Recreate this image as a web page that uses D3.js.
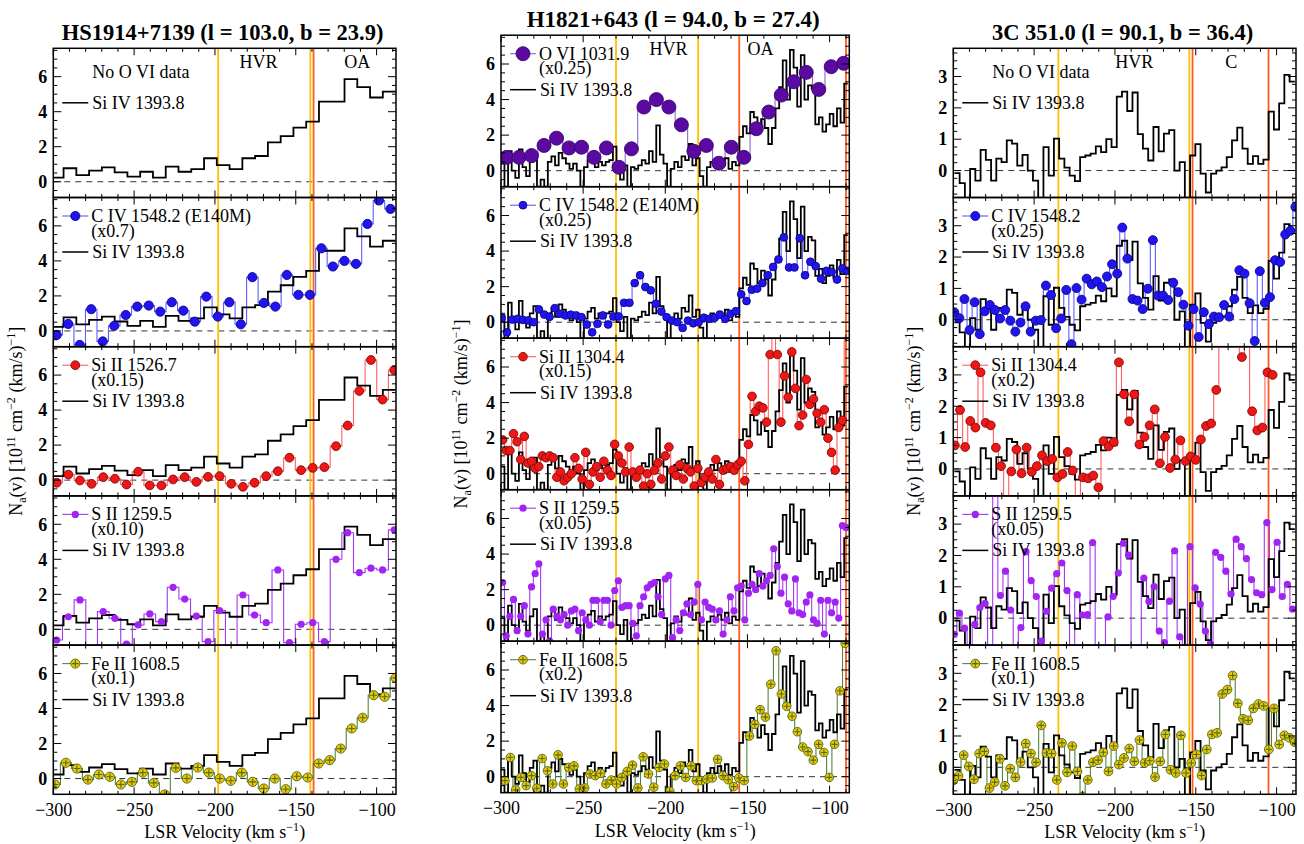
<!DOCTYPE html>
<html>
<head>
<meta charset="utf-8">
<script src="https://cdn.jsdelivr.net/npm/d3@7"></script>
<style>
  body { margin: 0; background: #fff; }
  svg text { font-family: "Liberation Serif", "Times New Roman", serif; fill: #000; }
</style>
</head>
<body>
<svg id="chart" width="1304" height="844"></svg>
<script>
// ---------------- data: apparent column density profiles ----------------
// Each profile is sampled on a uniform velocity grid [first centre, step] (km/s).

// HS1914+7139
const hsTitle = "HS1914+7139 (l = 103.0, b = 23.9)";
const hsSiIVGrid = [-297.6, 7.9];
const hsSiIV = [0.23,0.77,0.38,0.63,0.82,0.54,0.29,0.57,0.23,0.86,0.57,0.72,1.34,0.95,0.72,1.34,1.47,2.25,2.61,3.09,3.43,4.58,4.58,5.86,5.40,4.81,5.15];
const hsCIVGrid = [-297.9, 7.12];
const hsCIV = [-0.23,0.4,-0.8,1.24,-0.6,0.29,0.91,1.39,1.45,1.1,1.64,1.16,0.53,1.96,0.82,1.64,0.38,3.07,1.6,1.39,3.2,2.06,2.06,4.72,3.68,4.0,3.83,6.11,7.45,6.97];
const hsSiIIGrid = [-297.9, 7.2];
const hsSiII = [-0.15,0.32,-0.02,-0.21,0.17,0.08,-0.25,0.48,-0.3,-0.3,0.04,0.17,-0.1,0.19,0.23,-0.21,-0.38,-0.15,0.23,0.51,1.28,0.57,0.7,0.74,1.94,3.12,5.09,6.86,4.6,6.29];
const hsSIIGrid = [-297.9, 7.2];
const hsSII = [-0.61,0.72,1.68,-1.5,1.01,0.63,-0.84,0.25,0.88,0.44,2.4,1.73,0.76,-0.7,1.07,-1.5,1.96,0.82,0.38,3.39,-0.76,0.29,0.38,-0.7,4.0,5.52,3.24,3.49,3.39,5.68];
const hsFeIIGrid = [-299, 6.8];
const hsFeII = [-0.34,0.9,0.57,-0.06,0.23,0.1,-0.34,-0.19,0.34,-0.25,-0.91,0.61,0,0.63,0.34,0,-0.13,0.34,-0.19,-0.57,0,-0.61,0.13,0.06,0.86,1.05,1.71,2.86,3.47,4.76,4.67,5.75];
const hsYellow = [-198, -141];
const hsOrange = [-139];
const hsRegions = [["HVR", -173], ["OA", -112]];

// H1821+643
const h18Title = "H1821+643 (l = 94.0, b = 27.4)";
const h18SiIVGrid = [-299, 2.2];
const h18SiIV = [0.4,-0.9,1.1,0.0,-0.4,1.2,0.2,-0.3,0.5,0.9,
  -0.9,-0.5,-0.9,0.5,0.8,0.3,1.0,0.7,0.4,0.1,
  0.4,0.0,-0.9,0.2,0.6,0.8,0.2,0.5,0.3,0.5,
  0.6,1.35,0.0,-0.5,0.3,-0.9,0.2,0.1,0.3,0.6,
  0.4,1.1,0.5,2.55,0.9,0.4,-0.9,0.1,0.5,0.2,
  0.8,0.6,1.5,0.3,0.7,-0.3,-0.9,0.2,0.5,0.2,
  0.6,0.3,0.7,0.1,0.5,0.3,1.9,2.5,2.1,3.3,
  3.0,2.2,2.9,2.4,1.5,2.4,3.5,4.7,6.2,4.0,
  6.8,5.8,3.6,6.5,4.0,4.8,4.6,2.6,3.0,2.2,
  2.6,3.2,2.5,3.5,2.7,4.9];
const h18OVIGrid = [-296.6, 7.6];
const h18OVI = [0.75,0.75,0.85,1.42,1.83,1.28,1.32,0.75,1.28,0.19,1.23,3.58,4.0,3.58,2.58,1.09,1.42,0.42,1.32,0.75,2.36,3.3,4.25,5.0,5.53,4.57,5.85,6.04];
const h18CIVGrid = [-299.6, 3.24];
const h18CIV = [0.23,-0.57,0.15,0.19,0.13,0.1,0.0,0.72,0.43,0.3,
  0.79,0.47,0.38,0.42,0.38,0.28,-0.13,-0.57,-0.09,0.38,
  -0.13,0.32,0.32,1.09,1.09,2.2,2.64,1.98,1.79,1.04,
  0.6,0.28,0.09,0,-0.32,0.09,-0.06,0,0.25,0.19,
  0.25,0.42,0.19,0.47,0.62,1.57,1.19,1.83,1.89,2.2,
  2.64,3.11,3.53,4.77,3.08,3.08,4.72,2.64,3.4,3.15,
  2.45,2.89,2.83,2.4,3.02,2.89];
const h18SiIIGrid = [-299, 2.2];
const h18SiII = [1.9,1.3,1.3,2.25,1.8,0.8,2.1,0.6,0.7,0.3,
  0.4,1.0,0.9,1.0,0.9,-0.2,0.1,-0.4,-0.2,0.0,
  0.9,0.3,-0.3,1.2,-0.6,0.1,0.4,-0.2,0.7,0.2,
  -0.1,1.65,1.0,0.6,0.1,1.5,0.1,-0.2,0.2,-0.7,
  0.0,-0.6,0.2,0.6,-0.3,1.0,1.5,0.2,-0.1,0.5,
  -0.3,0.3,0.1,-0.7,0.3,-0.5,-0.2,0.1,-0.3,0.8,
  -0.6,0.2,0.3,0.4,0.2,0.5,0.7,-0.4,1.65,4.35,
  3.5,3.8,3.7,2.9,6.7,8.5,6.7,2.9,5.5,4.3,
  6.85,4.8,2.7,3.3,5.3,3.9,4.2,3.4,2.9,3.6,
  2.0,1.2,0.2,2.6,3.0,8.5];
const h18SIIGrid = [-299, 2.2];
const h18SII = [2.4,-0.6,0.5,1.45,-0.3,0.5,1.1,-0.5,2.15,2.9,
  3.45,-0.5,0.3,-0.9,0.9,0.5,0.3,0.6,0.0,0.8,
  0.9,-0.3,0.7,0.3,0.0,1.4,1.4,0.2,1.4,1.4,
  0.0,1.95,2.5,1.0,1.1,1.1,0.1,-0.6,1.1,1.6,
  2.1,2.3,2.4,1.6,0.6,2.6,2.8,-0.7,0.3,-0.3,
  0.7,1.2,0.6,1.3,2.3,0.3,1.3,1.0,0.9,0.3,
  0.8,-0.5,0.3,1.6,0.8,2.1,2.2,0.3,1.8,2.3,
  2.0,2.9,2.2,2.5,2.8,4.3,3.3,1.8,2.7,1.2,
  0.8,2.6,0.7,0.6,1.3,1.7,0.3,0.1,1.4,-0.5,
  1.4,0.7,1.3,0.4,5.6,5.5];
const h18FeIIGrid = [-297.6, 3.236];
const h18FeII = [-0.22,1.08,-0.74,-0.04,-0.5,0.06,-0.65,1.02,0.33,-0.41,
  1.23,-0.41,0.52,0.61,-0.69,-0.63,0.15,0.06,0.19,-0.41,
  -0.19,-0.41,-0.04,0.3,0.65,-0.63,1.12,0.15,-0.59,0.52,
  0.71,-0.82,0.06,0.61,-0.04,0.61,-0.22,-0.22,-0.13,-0.07,
  0.98,0.06,-0.17,-0.56,-0.07,-0.22,2.29,2.94,3.77,3.35,
  5.2,7.08,4.65,3.96,3.4,2.53,1.67,1.41,0.93,1.82,
  1.36,-0.04,1.82,4.83,7.5];
const h18Yellow = [-230, -180];
const h18Orange = [-155, -90];
const h18Regions = [["HVR", -198], ["OA", -142]];

// 3C 351.0
const c3Title = "3C 351.0 (l = 90.1, b = 36.4)";
const c3SiIVGrid = [-297.7, 3.24];
const c3SiIV = [-0.08,-0.4,-0.95,0.05,-0.32,0.66,0.34,-0.32,0.38,0.27,
  0.96,0.86,0.16,0.5,0,-0.32,-1.0,0.75,-0.16,1.02,
  0.38,0.09,-0.16,-0.34,0.43,0.48,0.54,0.77,0.59,1.0,
  0.75,2.36,2.52,1.9,2.49,1.16,0.7,0.32,1.39,0.61,
  1.18,1.29,0,0.27,-1.0,0.48,0.84,-0.1,-0.7,-0.1,
  0,0.1,0.43,0.96,1.37,0.7,0.21,0.46,0.21,0.35,
  1.88,1.31,2.14,3.05,2.84];
const c3CIVGrid = [-299.4, 3.15];
const c3CIV = [0.24,0.05,0.66,-0.33,0.56,-0.46,0.27,0.47,0.31,0.04,
  0.31,-0.03,-0.38,-0.09,0.43,-0.38,-0.03,-0.01,1.09,0.79,
  -0.27,0.04,0.95,-0.78,1.01,0.64,1.31,1.13,1.22,1.04,
  1.38,1.77,1.47,2.94,1.95,0.66,0.61,0.34,0.99,2.54,
  0.77,0.77,0.63,1.18,0.88,0.48,-0.19,0.34,-0.55,0.24,
  -0.14,0.1,0.08,0.47,0.1,0.66,1.58,1.47,0.53,-0.68,
  1.55,0.54,0.72,1.9,1.84,2.72,2.84,3.6];
const c3SiIIGrid = [-299, 3.17];
const c3SiII = [0.75,1.88,0.7,1.53,1.32,3.08,1.47,1.39,0.68,0.09,
  -1.0,-0.08,0.62,-0.14,0.68,-0.09,0.09,0.43,0.25,0.32,
  -0.27,-0.16,0.54,-0.05,-1.0,-0.27,-0.3,-0.21,-0.59,0.89,
  0.72,0.86,3.4,2.38,1.52,2.38,0.78,1.02,1.39,1.9,
  0.18,1.02,0.03,0.3,0.91,0.25,0.4,0.29,0.94,1.37,
  1.45,2.52,4.5,4.5,4.5,4.5,3.57,4.5,1.84,1.23,
  1.32,3.08,3.0];
const c3SIIGrid = [-299.4, 3.17];
const c3SII = [-0.52,0.16,-0.32,-1.2,-0.2,0.34,0.47,-1.2,4.5,0.72,
  1.5,0.26,-1.2,-0.3,2.12,1.2,0.69,-0.73,0.22,0.96,
  1.42,1.76,0.88,-1.2,0.75,0.1,0.11,2.41,-1.2,-1.2,
  0.04,0.69,1.44,2.39,2.01,-1.2,-1.2,1.28,0.53,1.01,
  -0.41,-0.78,0.54,2.15,-0.6,-1.0,2.28,0.97,0.45,-0.41,
  -0.84,2.1,1.94,1.5,0.77,2.52,2.28,1.9,1.23,0.81,
  0.75,3.05,0.91,2.42,0.69,1.08,0.29];
const c3FeIIGrid = [-300, 3.2];
const c3FeII = [-0.42,-0.27,0.39,0.03,-0.38,0.44,0.51,-0.66,-0.47,0.27,
  -0.59,-0.04,-0.32,0.17,0.76,0.44,0.16,1.34,0.46,0.44,
  -0.4,0.78,-0.16,0.68,-0.13,-0.93,-0.4,0.16,0.23,0.48,
  -0.13,0.68,0.09,0.3,0.6,0.19,0.87,0.14,0.21,-0.31,
  0.19,1.05,-0.08,-0.18,1.02,-0.18,0.14,0.41,-0.26,0.57,
  1.05,1.1,2.34,2.48,2.93,2.04,1.55,1.5,1.88,2.02,
  1.96,0.57,1.88,0.73,1.02,0.94,0.8];
const c3Yellow = [-235, -154];
const c3Orange = [-152, -105];
const c3Regions = [["HVR", -188], ["C", -128]];

// shared axis values
const velDomain = [-300, -88];
const velTicks = [-300, -250, -200, -150, -100];

// ---------------- styles ----------------
const ION_STYLE = {
  OVI:  { fill: "#5a0aa0", stroke: "#3c0672", line: "#8d66cf" },
  CIV:  { fill: "#2214ee", stroke: "#0d0890", line: "#5e5eff" },
  SiII: { fill: "#f01616", stroke: "#7c0b0b", line: "#ff5e5e" },
  SII:  { fill: "#a024f2", stroke: "none",    line: "#a638f4" },
  FeII: { fill: "#f5c300", stroke: "#3e6a1a", line: "#56843e", cross: true }
};
const YELLOW = "#ffbf00", ORANGE = "#ff5a1e";
const FONT = 18;

const svg = d3.select("#chart");
const defs = svg.append("defs");

function profile(grid, vals) { return { v0: grid[0], dv: grid[1], vals: vals }; }

const columns = [
  {
    id: "hs", title: hsTitle, titleSize: 22.5, left: 53.3, right: 396, top: 48.3, ph: 149.2,
    yDomain: [-0.9, 7.62], yMajor: [0, 2, 4, 6], yMinorStep: 0.5,
    siIV: profile(hsSiIVGrid, hsSiIV),
    yellow: hsYellow, orange: hsOrange, regions: hsRegions, labelX: 22,
    panels: [
      { none: "No O VI data" },
      { ion: "CIV", r: 4.6, name: "C IV 1548.2 (E140M)", scale: "(x0.7)", p: profile(hsCIVGrid, hsCIV) },
      { ion: "SiII", r: 4.4, name: "Si II 1526.7", scale: "(x0.15)", p: profile(hsSiIIGrid, hsSiII) },
      { ion: "SII", r: 3.6, name: "S II 1259.5", scale: "(x0.10)", p: profile(hsSIIGrid, hsSII) },
      { ion: "FeII", r: 4.6, name: "Fe II 1608.5", scale: "(x0.1)", p: profile(hsFeIIGrid, hsFeII) }
    ]
  },
  {
    id: "h18", title: h18Title, titleSize: 23, left: 501, right: 849.3, top: 35.2, ph: 151.5,
    yDomain: [-0.9, 7.62], yMajor: [0, 2, 4, 6], yMinorStep: 0.5,
    siIV: profile(h18SiIVGrid, h18SiIV),
    yellow: h18Yellow, orange: h18Orange, regions: h18Regions, labelX: 467,
    panels: [
      { ion: "OVI", r: 7, name: "O VI 1031.9", scale: "(x0.25)", p: profile(h18OVIGrid, h18OVI) },
      { ion: "CIV", r: 3.9, name: "C IV 1548.2 (E140M)", scale: "(x0.25)", p: profile(h18CIVGrid, h18CIV) },
      { ion: "SiII", r: 4.3, name: "Si II 1304.4", scale: "(x0.15)", p: profile(h18SiIIGrid, h18SiII) },
      { ion: "SII", r: 3.6, name: "S II 1259.5", scale: "(x0.05)", p: profile(h18SIIGrid, h18SII) },
      { ion: "FeII", r: 4.3, name: "Fe II 1608.5", scale: "(x0.2)", p: profile(h18FeIIGrid, h18FeII) }
    ]
  },
  {
    id: "c3", title: c3Title, titleSize: 22.5, left: 953.3, right: 1296, top: 48.3, ph: 149.2,
    yDomain: [-0.86, 3.9], yMajor: [0, 1, 2, 3], yMinorStep: 0.25,
    siIV: profile(c3SiIVGrid, c3SiIV),
    yellow: c3Yellow, orange: c3Orange, regions: c3Regions, labelX: 920,
    panels: [
      { none: "No O VI data" },
      { ion: "CIV", r: 4.5, name: "C IV 1548.2", scale: "(x0.25)", p: profile(c3CIVGrid, c3CIV) },
      { ion: "SiII", r: 4.4, name: "Si II 1304.4", scale: "(x0.2)", p: profile(c3SiIIGrid, c3SiII) },
      { ion: "SII", r: 3.6, name: "S II 1259.5", scale: "(x0.05)", p: profile(c3SIIGrid, c3SII) },
      { ion: "FeII", r: 4.4, name: "Fe II 1608.5", scale: "(x0.1)", p: profile(c3FeIIGrid, c3FeII) }
    ]
  }
];

// histogram outline: flat across each bin, vertical at bin edges
function stepPoints(p) {
  const pts = [];
  p.vals.forEach((val, i) => {
    const c = p.v0 + i * p.dv;
    pts.push([c - p.dv / 2, val], [c + p.dv / 2, val]);
  });
  return pts;
}
function centres(p) { return p.vals.map((val, i) => [p.v0 + i * p.dv, val]); }

function drawMarker(g, cx, cy, r, st) {
  g.append("circle").attr("cx", cx).attr("cy", cy).attr("r", r)
    .attr("fill", st.fill).attr("stroke", st.stroke).attr("stroke-width", st.stroke === "none" ? 0 : 0.9);
  if (st.cross) {
    const a = r * 0.72;
    g.append("path")
      .attr("d", `M${cx - a},${cy}H${cx + a}M${cx},${cy - a}V${cy + a}`)
      .attr("stroke", "#44701f").attr("stroke-width", 1.1).attr("fill", "none");
  }
}

columns.forEach(col => {
  const x = d3.scaleLinear().domain(velDomain).range([col.left, col.right]);
  const w = col.right - col.left;

  // title
  svg.append("text")
    .attr("x", (col.left + col.right) / 2 - 2).attr("y", col.top - 8)
    .attr("text-anchor", "middle").attr("font-size", col.titleSize).attr("font-weight", "bold")
    .text(col.title);

  col.panels.forEach((pan, k) => {
    const top = col.top + k * col.ph, bot = top + col.ph;
    const y = d3.scaleLinear().domain(col.yDomain).range([bot, top]);
    const g = svg.append("g");
    const clipId = `clip-${col.id}-${k}`;
    defs.append("clipPath").attr("id", clipId)
      .append("rect").attr("x", col.left).attr("y", top).attr("width", w).attr("height", col.ph);
    const inner = g.append("g").attr("clip-path", `url(#${clipId})`);

    // zero level
    inner.append("line")
      .attr("x1", col.left).attr("x2", col.right).attr("y1", y(0)).attr("y2", y(0))
      .attr("stroke", "#333").attr("stroke-width", 1).attr("stroke-dasharray", "6,5");

    // velocity boundaries
    col.yellow.forEach(v => inner.append("line")
      .attr("x1", x(v)).attr("x2", x(v)).attr("y1", top).attr("y2", bot)
      .attr("stroke", YELLOW).attr("stroke-width", 1.8));
    col.orange.forEach(v => inner.append("line")
      .attr("x1", x(v)).attr("x2", x(v)).attr("y1", top).attr("y2", bot)
      .attr("stroke", ORANGE).attr("stroke-width", 1.8));

    const line = d3.line().x(d => x(d[0])).y(d => y(d[1]));

    // comparison ion profile (step line)
    if (pan.ion) {
      const st = ION_STYLE[pan.ion];
      inner.append("path").attr("d", line(stepPoints(pan.p)))
        .attr("fill", "none").attr("stroke", st.line).attr("stroke-width", 1.1);
    }

    // Si IV 1393.8 histogram
    inner.append("path").attr("d", line(stepPoints(col.siIV)))
      .attr("fill", "none").attr("stroke", "#000").attr("stroke-width", 1.8)
      .attr("stroke-linejoin", "miter");

    // comparison ion samples
    if (pan.ion) {
      const st = ION_STYLE[pan.ion];
      const mg = inner.append("g");
      centres(pan.p).forEach(d => drawMarker(mg, x(d[0]), y(d[1]), pan.r, st));
    }

    // frame
    g.append("rect").attr("x", col.left).attr("y", top).attr("width", w).attr("height", col.ph)
      .attr("fill", "none").attr("stroke", "#000").attr("stroke-width", 1.5);

    // ticks (inward on all four sides)
    const minorX = d3.range(-300, -88, 10);
    const minorY = d3.range(Math.ceil(col.yDomain[0] / col.yMinorStep) * col.yMinorStep, col.yDomain[1], col.yMinorStep);
    const tickG = g.append("g").attr("stroke", "#000").attr("stroke-width", 1);
    [[bot, -1], [top, 1]].forEach(([yy, dir]) => {
      minorX.forEach(v => tickG.append("line").attr("x1", x(v)).attr("x2", x(v))
        .attr("y1", yy).attr("y2", yy + dir * (velTicks.includes(v) ? 7 : 3.5)));
    });
    [[col.left, 1], [col.right, -1]].forEach(([xx, dir]) => {
      minorY.forEach(v => tickG.append("line").attr("y1", y(v)).attr("y2", y(v))
        .attr("x1", xx).attr("x2", xx + dir * (col.yMajor.includes(+v.toFixed(2)) ? 8 : 4)));
    });

    // y tick labels
    col.yMajor.forEach(v => g.append("text")
      .attr("x", col.left - 6).attr("y", y(v)).attr("dy", "0.35em")
      .attr("text-anchor", "end").attr("font-size", FONT).attr("font-weight", "bold")
      .text(v));

    // x tick labels on the bottom panel
    if (k === col.panels.length - 1) {
      const ax = g.append("g").attr("transform", `translate(0,${bot})`)
        .call(d3.axisBottom(x).tickValues(velTicks).tickSize(0).tickPadding(9)
          .tickFormat(d3.format("d")));
      ax.select(".domain").remove();
      ax.selectAll("text").attr("font-size", FONT).attr("font-family", "Liberation Serif, serif").attr("fill", "#000");

      const xl = g.append("text").attr("x", (col.left + col.right) / 2).attr("y", bot + 44)
        .attr("text-anchor", "middle").attr("font-size", FONT);
      xl.append("tspan").text("LSR Velocity (km s");
      xl.append("tspan").attr("font-size", 12).attr("dy", -7).text("\u22121");
      xl.append("tspan").attr("dy", 7).text(")");
    }

    // region labels in the top panel
    if (k === 0) {
      col.regions.forEach(([txt, v]) => g.append("text")
        .attr("x", x(v)).attr("y", top + 20).attr("text-anchor", "middle")
        .attr("font-size", FONT).text(txt));
    }

    // legend
    const lx = col.left;
    if (pan.none) {
      g.append("text").attr("x", lx + 39).attr("y", top + 30).attr("font-size", FONT).text(pan.none);
    } else {
      const st = ION_STYLE[pan.ion];
      g.append("line").attr("x1", lx + 9).attr("x2", lx + 35).attr("y1", top + 18.5).attr("y2", top + 18.5)
        .attr("stroke", st.line).attr("stroke-width", 1.1);
      drawMarker(g, lx + 22, top + 18.5, pan.r, st);
      g.append("text").attr("x", lx + 38).attr("y", top + 24.5).attr("font-size", FONT).text(pan.name);
      g.append("text").attr("x", lx + 38).attr("y", top + 39).attr("font-size", FONT).text(pan.scale);
    }
    g.append("line").attr("x1", lx + 9).attr("x2", lx + 35).attr("y1", top + 54.5).attr("y2", top + 54.5)
      .attr("stroke", "#000").attr("stroke-width", 1.5);
    g.append("text").attr("x", lx + 39).attr("y", top + 60.5).attr("font-size", FONT).text("Si IV 1393.8");
  });

  // y axis title
  const midY = col.top + col.ph * col.panels.length / 2;
  const yl = svg.append("text")
    .attr("transform", `translate(${col.labelX},${midY}) rotate(-90)`)
    .attr("text-anchor", "middle").attr("font-size", FONT);
  yl.append("tspan").text("N");
  yl.append("tspan").attr("font-size", 12).attr("dy", 4).text("a");
  yl.append("tspan").attr("dy", -4).text("(v) [10");
  yl.append("tspan").attr("font-size", 12).attr("dy", -7).text("11");
  yl.append("tspan").attr("dy", 7).text(" cm");
  yl.append("tspan").attr("font-size", 12).attr("dy", -7).text("\u22122");
  yl.append("tspan").attr("dy", 7).text(" (km/s)");
  yl.append("tspan").attr("font-size", 12).attr("dy", -7).text("\u22121");
  yl.append("tspan").attr("dy", 7).text("]");
});
</script>
</body>
</html>
